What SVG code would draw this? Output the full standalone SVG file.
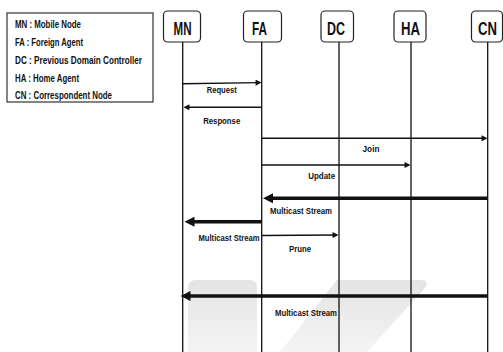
<svg xmlns="http://www.w3.org/2000/svg" width="503" height="352" viewBox="0 0 503 352">
<style>
.box{fill:#fff;stroke:#222;stroke-width:1.2}
.life{stroke:#111;stroke-width:1.3}
.hdr{font-family:"Liberation Sans",Arial,sans-serif;font-weight:bold;font-size:18px;fill:#111;text-anchor:middle}
.leg{font-family:"Liberation Sans",Arial,sans-serif;font-weight:bold;font-size:10px;fill:#111}
.lbl{font-family:"Liberation Sans",Arial,sans-serif;font-weight:bold;font-size:9px;fill:#111;text-anchor:middle}
.thin{stroke:#111;stroke-width:1.4;fill:none;marker-end:url(#ah)}
.thick{stroke:#111;stroke-width:3.6;fill:none;marker-end:url(#ahb)}
</style>
<defs>
<marker id="ah" viewBox="0 0 10 10" refX="5.7" refY="5" markerUnits="userSpaceOnUse" markerWidth="7" markerHeight="6" orient="auto"><path d="M0,0 L10,5 L0,10 z" fill="#111"/></marker>
<marker id="ahb" viewBox="0 0 10 10" refX="4.5" refY="5" markerUnits="userSpaceOnUse" markerWidth="11" markerHeight="10" orient="auto"><path d="M0,0 L10,5 L0,10 z" fill="#111"/></marker>
<linearGradient id="wm" x1="0" y1="0" x2="0" y2="1"><stop offset="0" stop-color="#e4e4e4"/><stop offset="1" stop-color="#f4f4f4"/></linearGradient>
</defs>
<rect width="503" height="352" fill="#fff"/>
<g id="watermark">
<path d="M196,280 H249 Q257,280 257,288 V352 H188 V288 Q188,280 196,280 z" fill="url(#wm)"/>
<path d="M337,280 H420 Q430,280 425,288 L367,352 H280 z" fill="url(#wm)"/>
</g>
<g id="legend">
<rect x="7" y="13" width="146" height="89" fill="#fff" stroke="#333" stroke-width="1.2"/>
<text class="leg" x="15" y="28" textLength="66" lengthAdjust="spacingAndGlyphs">MN : Mobile Node</text>
<text class="leg" x="15" y="46" textLength="68" lengthAdjust="spacingAndGlyphs">FA : Foreign Agent</text>
<text class="leg" x="15" y="64" textLength="127" lengthAdjust="spacingAndGlyphs">DC : Previous Domain   Controller</text>
<text class="leg" x="15" y="81.5" textLength="64" lengthAdjust="spacingAndGlyphs">HA : Home Agent</text>
<text class="leg" x="15" y="99" textLength="97" lengthAdjust="spacingAndGlyphs">CN : Correspondent Node</text>
</g>
<g id="MN">
<rect class="box" x="163.5" y="11" width="37" height="31" rx="4"/>
<line class="life" x1="182.7" y1="42" x2="182.7" y2="352"/>
<text class="hdr" x="182.5" y="35" textLength="18" lengthAdjust="spacingAndGlyphs">MN</text>
</g>
<g id="FA">
<rect class="box" x="243.5" y="11" width="38" height="31" rx="4"/>
<line class="life" x1="261.7" y1="42" x2="261.7" y2="352"/>
<text class="hdr" x="259.5" y="35" textLength="15" lengthAdjust="spacingAndGlyphs">FA</text>
</g>
<g id="DC">
<rect class="box" x="321" y="11" width="32.5" height="31" rx="4"/>
<line class="life" x1="339" y1="42" x2="339" y2="352"/>
<text class="hdr" x="336" y="35" textLength="18" lengthAdjust="spacingAndGlyphs">DC</text>
</g>
<g id="HA">
<rect class="box" x="394" y="11" width="32" height="31" rx="4"/>
<line class="life" x1="411" y1="42" x2="411" y2="352"/>
<text class="hdr" x="410.5" y="35" textLength="19" lengthAdjust="spacingAndGlyphs">HA</text>
</g>
<g id="CN">
<rect class="box" x="471.5" y="11" width="31" height="31" rx="4"/>
<line class="life" x1="487.7" y1="42" x2="487.7" y2="352"/>
<text class="hdr" x="487.5" y="35" textLength="19" lengthAdjust="spacingAndGlyphs">CN</text>
</g>
<g id="connectors">
<line class="thin" x1="182.7" y1="83.8" x2="259" y2="82.6"/>
<line class="thin" x1="261.7" y1="107.3" x2="186" y2="107.3"/>
<line class="thin" x1="261.7" y1="138.3" x2="485" y2="138.3"/>
<line class="thin" x1="261.7" y1="165" x2="408" y2="165"/>
<line class="thick" x1="487.7" y1="198.3" x2="268.5" y2="198.3"/>
<line class="thick" x1="261.7" y1="221.7" x2="190" y2="221.7"/>
<line class="thin" x1="261.7" y1="235.5" x2="336" y2="235"/>
<line class="thick" x1="487.7" y1="296" x2="186" y2="296"/>
</g>
<g id="labels">
<text class="lbl" x="221.7" y="93.3" textLength="30" lengthAdjust="spacingAndGlyphs">Request</text>
<text class="lbl" x="221.7" y="124.3" textLength="37" lengthAdjust="spacingAndGlyphs">Response</text>
<text class="lbl" x="371" y="151.5" textLength="17" lengthAdjust="spacingAndGlyphs">Join</text>
<text class="lbl" x="321.7" y="179" textLength="27" lengthAdjust="spacingAndGlyphs">Update</text>
<text class="lbl" x="301" y="214.3" textLength="62" lengthAdjust="spacingAndGlyphs">Multicast Stream</text>
<text class="lbl" x="229" y="241" textLength="61" lengthAdjust="spacingAndGlyphs">Multicast Stream</text>
<text class="lbl" x="300" y="252.3" textLength="22" lengthAdjust="spacingAndGlyphs">Prune</text>
<text class="lbl" x="306" y="316" textLength="62" lengthAdjust="spacingAndGlyphs">Multicast Stream</text>
</g>
</svg>
